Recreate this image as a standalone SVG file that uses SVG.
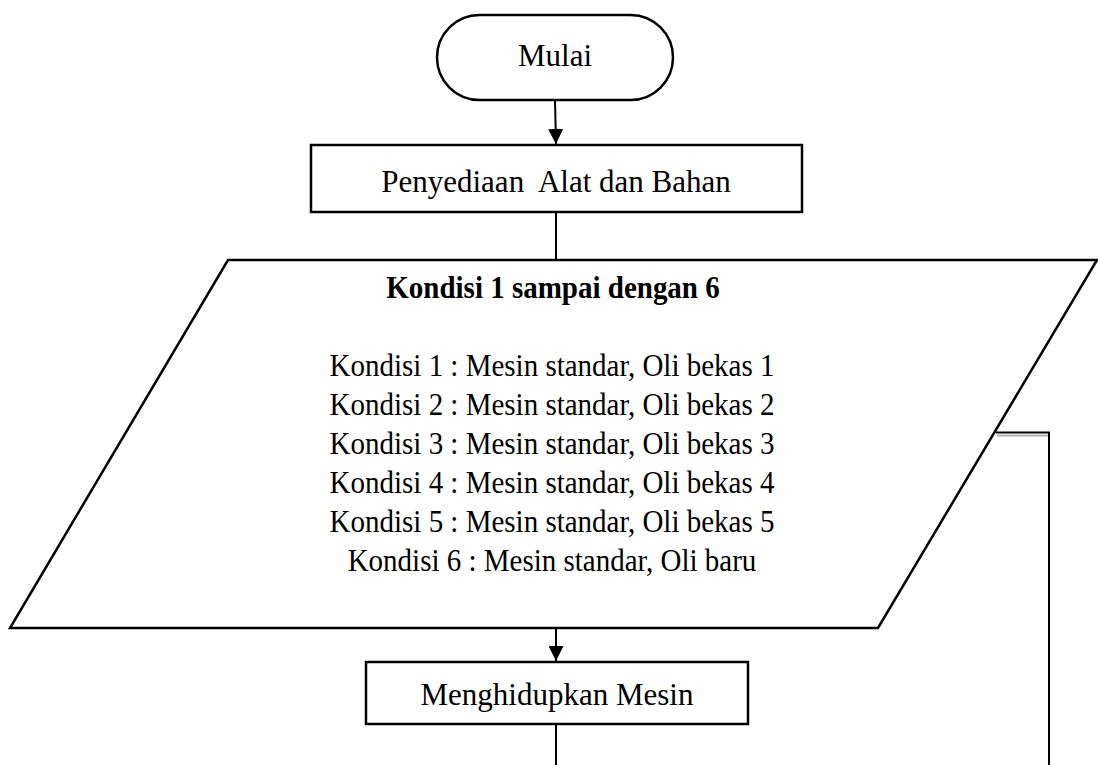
<svg xmlns="http://www.w3.org/2000/svg" width="1098" height="765" viewBox="0 0 1098 765">
<defs>
<style>
.shape{fill:#fff;stroke:#000;stroke-width:2.5}
.conn{fill:none;stroke:#000;stroke-width:2}
.t{font-family:"Liberation Serif","Times New Roman",serif;fill:#000;text-anchor:middle}
.big{font-size:31px}
.mid{font-size:29px}
.bold{font-weight:bold}
</style>
<marker id="ah" viewBox="0 0 10 10" refX="10" refY="5" markerWidth="7.5" markerHeight="7.5" markerUnits="strokeWidth" orient="auto">
<path d="M0,0 L10,5 L0,10 Z" fill="#000"/>
</marker>
</defs>
<rect width="1098" height="765" fill="#fff"/>
<g id="mulai">
<rect class="shape" x="437" y="15" width="236" height="85" rx="42.5" ry="42.5"/>
<text class="t big" x="555" y="66">Mulai</text>
</g>
<g id="penyediaan">
<rect class="shape" x="311" y="145" width="491" height="67"/>
<text class="t big" x="556" y="192" xml:space="preserve">Penyediaan  Alat dan Bahan</text>
</g>
<g id="kondisi">
<polygon class="shape" points="228,260 1097,260 878,628 10,628"/>
<text class="t mid bold" transform="translate(553,298) scale(1,1.08)">Kondisi 1 sampai dengan 6</text>
<text class="t mid" transform="translate(552,376) scale(1,1.1)">Kondisi 1 : Mesin standar, Oli bekas 1</text>
<text class="t mid" transform="translate(552,415) scale(1,1.1)">Kondisi 2 : Mesin standar, Oli bekas 2</text>
<text class="t mid" transform="translate(552,454) scale(1,1.1)">Kondisi 3 : Mesin standar, Oli bekas 3</text>
<text class="t mid" transform="translate(552,493) scale(1,1.1)">Kondisi 4 : Mesin standar, Oli bekas 4</text>
<text class="t mid" transform="translate(552,532) scale(1,1.1)">Kondisi 5 : Mesin standar, Oli bekas 5</text>
<text class="t mid" transform="translate(552,571) scale(1,1.1)">Kondisi 6 : Mesin standar, Oli baru</text>
</g>
<g id="menghidupkan">
<rect class="shape" x="366" y="662" width="382" height="62"/>
<text class="t big" x="557" y="705">Menghidupkan Mesin</text>
</g>
<g id="connectors">
<line class="conn" x1="555" y1="100" x2="556" y2="144" marker-end="url(#ah)"/>
<line class="conn" x1="556" y1="212" x2="556" y2="260"/>
<line class="conn" x1="556" y1="629" x2="556" y2="661" marker-end="url(#ah)"/>
<line class="conn" x1="556" y1="724" x2="556" y2="765"/>
<line x1="997" y1="435.5" x2="1048" y2="435.5" stroke="#b0b0b0" stroke-width="2"/>
<polyline class="conn" points="996,432.5 1049,432.5 1049,765"/>
</g>
</svg>
